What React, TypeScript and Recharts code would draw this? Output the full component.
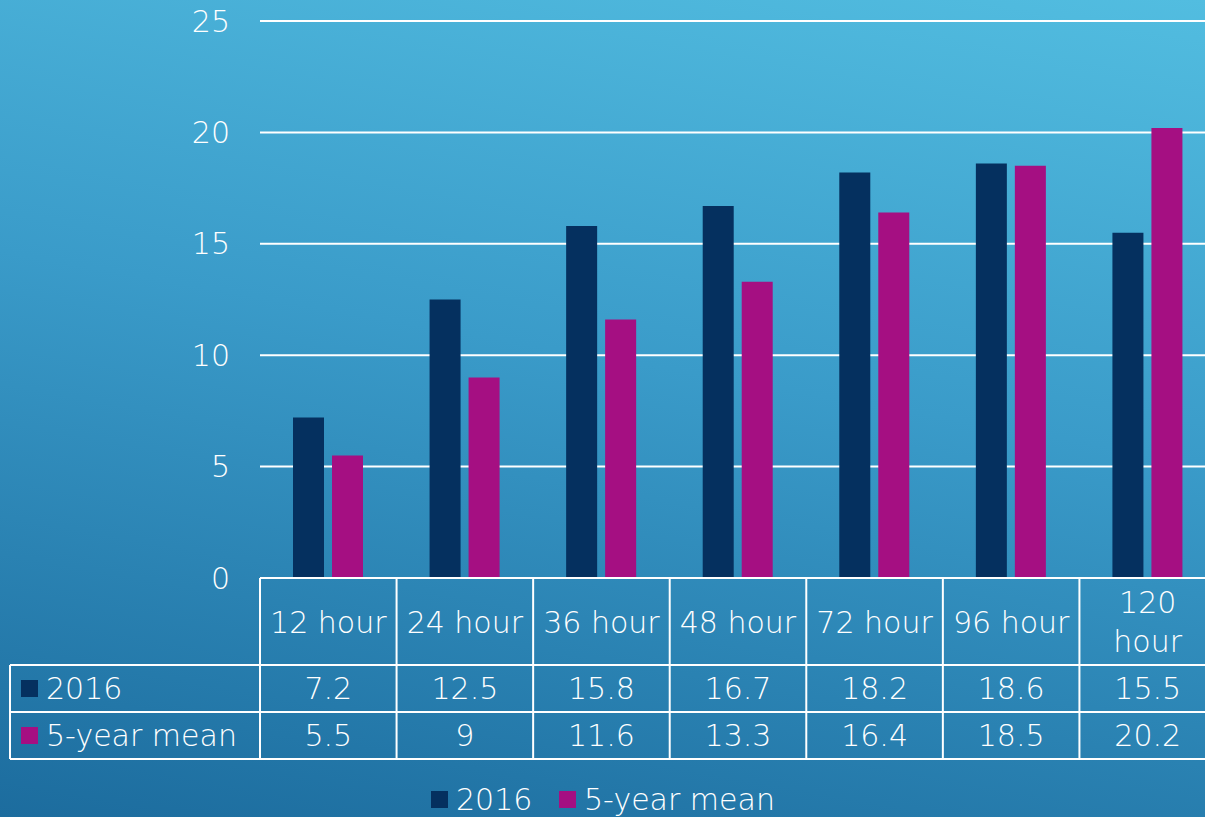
import { BarChart, Bar, XAxis, YAxis, CartesianGrid } from "recharts";

const categories = ["12 hour", "24 hour", "36 hour", "48 hour", "72 hour", "96 hour", "120 hour"];
const series2016 = [7.2, 12.5, 15.8, 16.7, 18.2, 18.6, 15.5];
const seriesMean = [5.5, 9, 11.6, 13.3, 16.4, 18.5, 20.2];
const seriesNames = ["2016", "5-year mean"];
const yTicks = [0, 5, 10, 15, 20, 25];

const COLORS = ["#05305f", "#a50f82"];
const FONT = "'DejaVu Sans', sans-serif";

const W = 1216;
const H = 817;
const PLOT_LEFT = 260;
const PLOT_TOP = 21;
const PLOT_BOTTOM = 578;
const BAND = (W - PLOT_LEFT) / categories.length;

const data = categories.map((name, i) => ({
  name,
  s2016: series2016[i],
  mean: seriesMean[i],
}));

// the label row wraps long names onto two lines
function splitLabel(label: string) {
  return label.length > 7 ? label.split(" ") : [label];
}

function DataTable() {
  const rowTop = PLOT_BOTTOM;
  const row1 = 665;
  const row2 = 712;
  const row3 = 759;
  const lineStyle = { stroke: "#ffffff", strokeWidth: 2 };
  const textStyle = { fill: "#ffffff", fontSize: 30, fontWeight: 200, fontFamily: FONT };
  const rows = [series2016, seriesMean];

  return (
    <svg width={W} height={H} style={{ position: "absolute", left: 0, top: 0 }}>
      <line x1={PLOT_LEFT} x2={W} y1={rowTop} y2={rowTop} {...lineStyle} />
      <line x1={10} x2={W} y1={row1} y2={row1} {...lineStyle} />
      <line x1={10} x2={W} y1={row2} y2={row2} {...lineStyle} />
      <line x1={10} x2={W} y1={row3} y2={row3} {...lineStyle} />
      <line x1={10} x2={10} y1={row1} y2={row3} {...lineStyle} />
      {categories.map((_, i) => (
        <line
          key={"v" + i}
          x1={PLOT_LEFT + i * BAND}
          x2={PLOT_LEFT + i * BAND}
          y1={rowTop}
          y2={row3}
          {...lineStyle}
        />
      ))}
      {categories.map((c, i) => {
        const cx = PLOT_LEFT + (i + 0.5) * BAND;
        const lines = splitLabel(c);
        return lines.map((t, j) => (
          <text
            key={c + j}
            x={cx}
            y={lines.length > 1 ? 613 + j * 39 : 633}
            textAnchor="middle"
            {...textStyle}
          >
            {t}
          </text>
        ));
      })}
      {rows.map((vals, r) => {
        const base = r === 0 ? 699 : 746;
        return (
          <g key={"r" + r}>
            <rect x={21} y={base - 19} width={17} height={17} fill={COLORS[r]} />
            <text x={46} y={base} {...textStyle}>
              {seriesNames[r]}
            </text>
            {vals.map((v, i) => (
              <text
                key={i}
                x={PLOT_LEFT + (i + 0.5) * BAND}
                y={base}
                textAnchor="middle"
                {...textStyle}
              >
                {v}
              </text>
            ))}
          </g>
        );
      })}
      <rect x={431} y={791} width={17} height={17} fill={COLORS[0]} />
      <text x={456} y={810} {...textStyle}>
        {seriesNames[0]}
      </text>
      <rect x={559} y={791} width={17} height={17} fill={COLORS[1]} />
      <text x={584} y={810} {...textStyle}>
        {seriesNames[1]}
      </text>
    </svg>
  );
}

export default function App() {
  return (
    <div
      style={{
        position: "absolute",
        left: 0,
        top: 0,
        width: 1205,
        height: 817,
        overflow: "hidden",
        background: "linear-gradient(190deg, #52bde0 0%, #3a9bc9 45%, #1c6c9e 100%)",
      }}
    >
      <BarChart
        width={W}
        height={H}
        data={data}
        margin={{ top: PLOT_TOP, right: 0, bottom: H - PLOT_BOTTOM, left: PLOT_LEFT - 60 }}
        barSize={31}
        barGap={8}
      >
        <CartesianGrid vertical={false} stroke="#ffffff" strokeWidth={2} />
        <XAxis dataKey="name" hide height={0} />
        <YAxis
          width={60}
          domain={[0, 25]}
          ticks={yTicks}
          axisLine={false}
          tickLine={false}
          tickSize={30}
          tickMargin={0}
          tick={{ fill: "#ffffff", fontSize: 30, fontWeight: 200, fontFamily: FONT }}
        />
        <Bar dataKey="s2016" fill={COLORS[0]} isAnimationActive={false} />
        <Bar dataKey="mean" fill={COLORS[1]} isAnimationActive={false} />
      </BarChart>
      <DataTable />
    </div>
  );
}
